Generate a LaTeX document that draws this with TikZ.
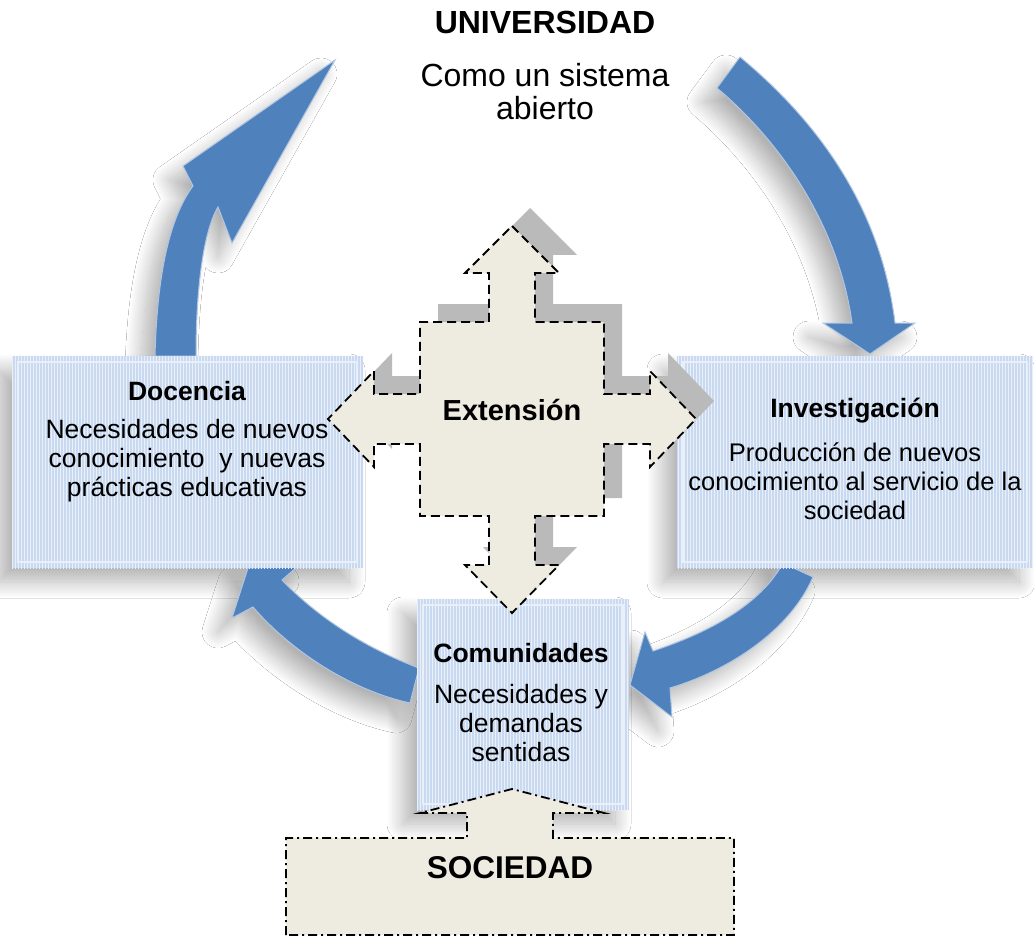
\documentclass[tikz,border=0pt]{standalone}
\usepackage{fontspec}
\setmainfont{Liberation Sans}
\usetikzlibrary{shadows.blur,patterns}

\definecolor{arrowblue}{RGB}{79,129,189}
\definecolor{boxblue}{RGB}{200,217,240}
\definecolor{beige}{RGB}{238,236,225}

\newcommand{\headfont}{\bfseries\fontsize{26.5}{29}\selectfont}
\newcommand{\bodyfont}{\fontsize{26.5}{29}\selectfont}

\begin{document}
\begin{tikzpicture}[x=1pt, y=-1pt,
  softshadow/.style={blur shadow={shadow xshift=-14pt, shadow yshift=-14pt,
      shadow blur radius=16pt, shadow blur steps=24, shadow opacity=30}},
  bluearrow/.style={fill=arrowblue, draw=arrowblue!45!white, line width=1pt, softshadow},
  bluebox/.style={rectangle, fill=boxblue, inner sep=0pt,
      postaction={pattern=vertical lines, pattern color=white!60!boxblue},
      path picture={\draw[white, opacity=.6, line width=2pt]
        ([shift={(6pt,6pt)}]path picture bounding box.south west) rectangle
        ([shift={(-6pt,-6pt)}]path picture bounding box.north east);}},
  boxhead/.style={font=\headfont},
  boxtext/.style={font=\bodyfont, align=center},
  extshape/.style={insert path={(512,226) -- (559,273) -- (535,273) -- (535,322)
      -- (604,322) -- (604,394) -- (650,394) -- (650,371) -- (696,419) -- (650,467)
      -- (650,444) -- (604,444) -- (604,516) -- (535,516) -- (535,565) -- (559,565)
      -- (512,613) -- (465,565) -- (489,565) -- (489,516) -- (420,516) -- (420,444)
      -- (374,444) -- (374,467) -- (328,419) -- (374,371) -- (374,394) -- (420,394)
      -- (420,322) -- (489,322) -- (489,273) -- (465,273) -- cycle}}]

\fill[white] (0,0) rectangle (1034,936);
\useasboundingbox (0,0) rectangle (1034,936);

% shadows of the three boxes
\path[softshadow] (12,356) rectangle (363,568);
\path[softshadow] (677,356) rectangle (1033,568);
\path[softshadow] (417,599) rectangle (629,810);

% curved arrows of the cycle
\filldraw[bluearrow] (155,356) .. controls (157,280) and (168,220) .. (193,186)
  -- (183,166) -- (335,60) -- (232,243) -- (218,207)
  .. controls (203,232) and (196,290) .. (196,356) -- cycle;
\filldraw[bluearrow] (717,88) -- (740,57) .. controls (810,115) and (880,200) .. (895,323)
  -- (915,323) -- (870,354) -- (823,323) -- (852,323)
  .. controls (840,235) and (790,150) .. (717,88) -- cycle;
\filldraw[bluearrow] (783,563) -- (813,577) .. controls (790,630) and (730,670) .. (670,688)
  -- (672,717) -- (630,685) -- (645,632) -- (653,651)
  .. controls (710,632) and (760,605) .. (783,563) -- cycle;
\filldraw[bluearrow] (419,668) -- (410,703) .. controls (350,690) and (290,650) .. (253,607)
  -- (232,618) -- (248,568) -- (297,567) -- (282,580)
  .. controls (320,620) and (370,650) .. (419,668) -- cycle;

% boxes
\node[bluebox, minimum width=351pt, minimum height=212pt] (docbox) at (187.5,462) {};
\node[bluebox, minimum width=356pt, minimum height=212pt] (invbox) at (855,462) {};
\node[bluebox, minimum width=212pt, minimum height=211pt] (combox) at (523,704.5) {};

% sociedad
\filldraw[fill=beige, line width=1.8pt, dash pattern=on 9pt off 4pt on 2pt off 4pt]
  (286,935) -- (286,838) -- (467,838) -- (467,813) -- (420,813) -- (512,789)
  -- (604,813) -- (553,813) -- (553,838) -- (734,838) -- (734,935) -- cycle;

% extension
\fill[black!27, xshift=18pt, yshift=18pt, extshape];
\filldraw[fill=beige, line width=1.8pt, dash pattern=on 9pt off 5pt, extshape];

% texts
\node[font=\bfseries\fontsize{32}{36}\selectfont] (univ) at (545,22) {UNIVERSIDAD};
\node[font=\fontsize{32}{33}\selectfont, align=center] (sistema) at (545,92) {Como un sistema\\abierto};

\node[boxhead] (dochead) at (187,391) {Docencia};
\node[boxtext] (doctext) at (187,461) {Necesidades de nuevos\\conocimiento\ \ y nuevas\\prácticas educativas};

\node[boxhead] (invhead) at (855,411) {Investigación};
\node[boxtext, font=\fontsize{25.5}{29}\selectfont] (invtext) at (855,481) {Producción de nuevos\\conocimiento al servicio de la\\sociedad};

\node[boxhead] (comhead) at (521,653) {Comunidades};
\node[boxtext] (comtext) at (521,723) {Necesidades y\\demandas\\sentidas};

\node[font=\bfseries\fontsize{29}{32}\selectfont] (ext) at (512,410) {Extensión};
\node[font=\bfseries\fontsize{31.5}{34}\selectfont] (soc) at (510,868) {SOCIEDAD};

\end{tikzpicture}
\end{document}
